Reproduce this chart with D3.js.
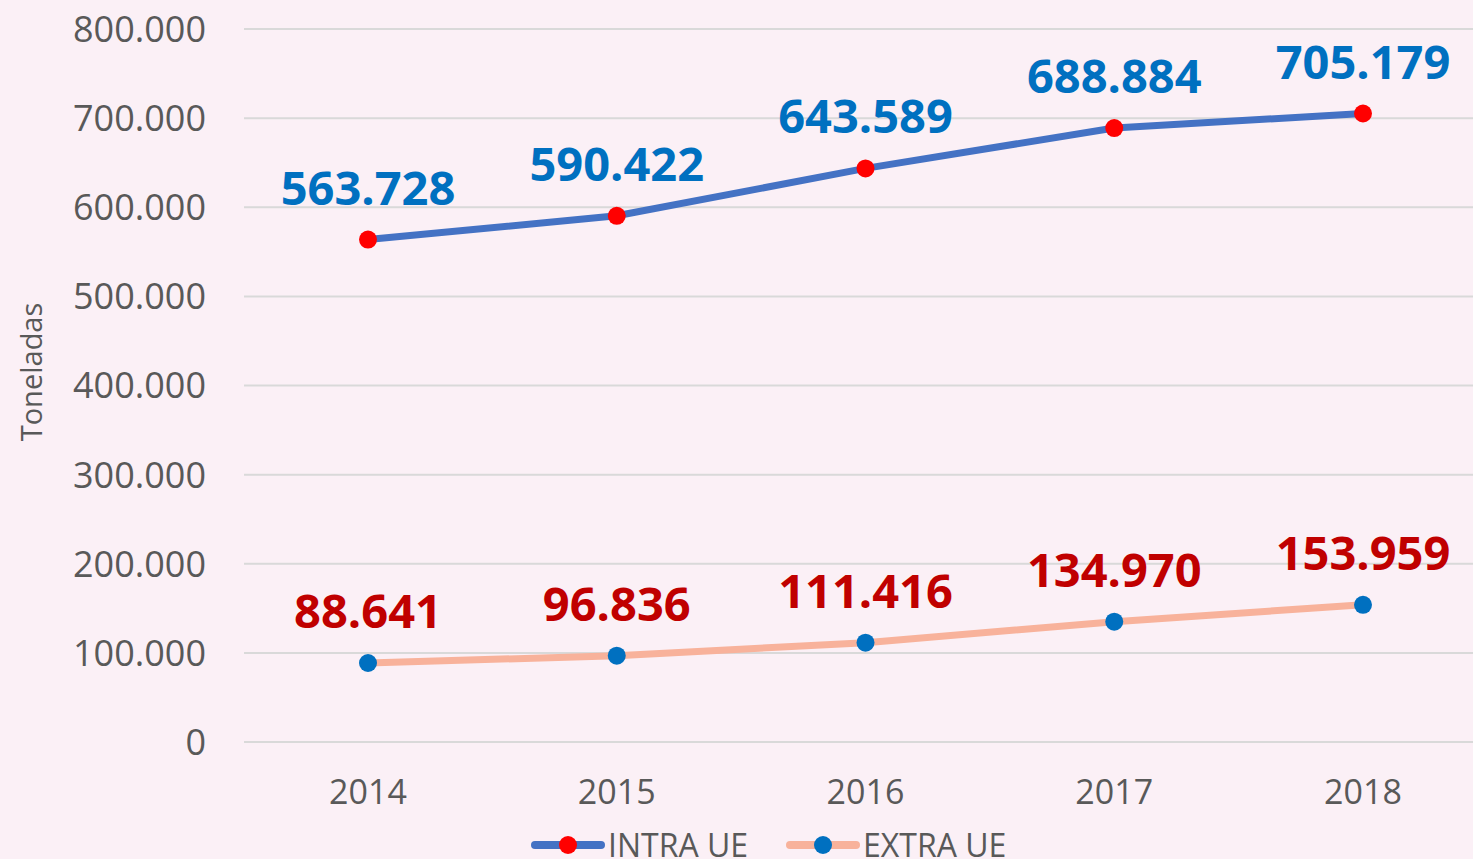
<!DOCTYPE html>
<html>
<head>
<meta charset="utf-8">
<script src="https://cdn.jsdelivr.net/npm/d3@7"></script>
<style>
  body { margin: 0; background: #fbf0f6; overflow: hidden; }
  svg { display: block; font-family: "Open Sans", sans-serif; }
</style>
</head>
<body>
<script>
var years = ["2014", "2015", "2016", "2017", "2018"];
var intraUE = [563728, 590422, 643589, 688884, 705179];
var extraUE = [88641, 96836, 111416, 134970, 153959];
var yTicks = [0, 100000, 200000, 300000, 400000, 500000, 600000, 700000, 800000];
var seriesNames = ["INTRA UE", "EXTRA UE"];

window.onload = () => {
  var W = 1473, H = 859;
  var left = 244, top = 29, bottom = 742;

  var svg = d3.select("body").append("svg")
    .attr("width", W).attr("height", H);

  svg.append("rect").attr("width", W).attr("height", H).attr("fill", "#fbf0f6");

  var x = d3.scalePoint().domain(years).range([368, 1363]);
  var y = d3.scaleLinear().domain([0, 800000]).range([bottom, top]);

  var fmt = d => d3.format(",")(d).replace(/,/g, ".");

  // gridlines
  svg.append("g").selectAll("line")
    .data(yTicks).enter().append("line")
    .attr("x1", left).attr("x2", W)
    .attr("y1", d => y(d)).attr("y2", d => y(d))
    .attr("stroke", "#d9d9d9").attr("stroke-width", 2);

  // y tick labels
  svg.append("g").selectAll("text")
    .data(yTicks).enter().append("text")
    .attr("x", 206).attr("y", d => y(d))
    .attr("dy", "0.36em")
    .attr("text-anchor", "end")
    .attr("font-size", 36).attr("fill", "#595959")
    .text(d => fmt(d));

  // x labels
  svg.append("g").selectAll("text")
    .data(years).enter().append("text")
    .attr("x", d => x(d)).attr("y", 792)
    .attr("dy", "0.36em")
    .attr("text-anchor", "middle")
    .attr("font-size", 34).attr("fill", "#595959")
    .text(d => d);

  // y axis title
  svg.append("text")
    .attr("transform", "translate(42,372) rotate(-90)")
    .attr("text-anchor", "middle")
    .attr("font-size", 29).attr("fill", "#595959")
    .text("Toneladas");

  var series = [
    { name: seriesNames[0], values: intraUE, line: "#4472c4", dot: "#ff0000", label: "#0070c0" },
    { name: seriesNames[1], values: extraUE, line: "#f8b29b", dot: "#0070c0", label: "#c00000" }
  ];

  var line = d3.line()
    .x((d, i) => x(years[i]))
    .y(d => y(d));

  series.forEach(s => {
    svg.append("path")
      .datum(s.values)
      .attr("d", line)
      .attr("fill", "none")
      .attr("stroke", s.line)
      .attr("stroke-width", 7)
      .attr("stroke-linecap", "round")
      .attr("stroke-linejoin", "round");

    svg.append("g").selectAll("circle")
      .data(s.values).enter().append("circle")
      .attr("cx", (d, i) => x(years[i]))
      .attr("cy", d => y(d))
      .attr("r", 9)
      .attr("fill", s.dot);

    svg.append("g").selectAll("text")
      .data(s.values).enter().append("text")
      .attr("x", (d, i) => x(years[i]))
      .attr("y", d => y(d) - 35)
      .attr("text-anchor", "middle")
      .attr("font-size", 47).attr("font-weight", "bold")
      .attr("fill", s.label)
      .text(d => fmt(d));
  });

  // legend
  var legX = [531, 786];
  series.forEach((s, i) => {
    var g = svg.append("g").attr("transform", "translate(" + legX[i] + ",845)");
    g.append("line")
      .attr("x1", 4).attr("x2", 70)
      .attr("stroke", s.line).attr("stroke-width", 8)
      .attr("stroke-linecap", "round");
    g.append("circle").attr("cx", 37).attr("r", 9).attr("fill", s.dot);
    g.append("text")
      .attr("x", 77).attr("dy", "0.36em")
      .attr("font-size", 32).attr("fill", "#595959")
      .text(s.name);
  });
};
</script>
</body>
</html>
